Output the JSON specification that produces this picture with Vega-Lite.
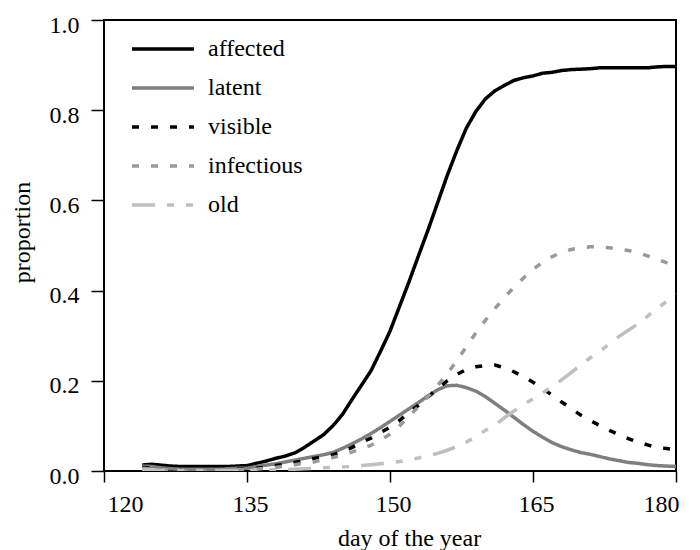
{
  "$schema": "https://vega.github.io/schema/vega-lite/v6.json",
  "width": 572,
  "height": 451,
  "autosize": {"type": "none"},
  "padding": {"left": 104, "top": 20, "right": 24, "bottom": 79},
  "background": "white",
  "config": {
    "font": "Liberation Serif",
    "view": {"stroke": "#000", "strokeWidth": 2},
    "axis": {
      "grid": false,
      "domain": false,
      "tickColor": "#000",
      "tickWidth": 1.5,
      "labelFont": "Liberation Serif",
      "labelFontSize": 24,
      "labelColor": "#000",
      "titleFont": "Liberation Serif",
      "titleFontSize": 24,
      "titleFontWeight": "normal",
      "titleColor": "#000"
    },
    "legend": {
      "orient": "none",
      "legendX": 26,
      "legendY": 17,
      "padding": 0,
      "symbolType": "stroke",
      "symbolSize": 3844,
      "symbolStrokeWidth": 3.5,
      "clipHeight": 24,
      "rowPadding": 15,
      "labelFont": "Liberation Serif",
      "labelFontSize": 24,
      "labelColor": "#000",
      "labelOffset": 12,
      "labelLimit": 300
    }
  },
  "data": {
    "values": [
      {"day":124,"affected":0.013,"latent":0.011,"visible":0.008,"infectious":0.006,"old":0.003},
      {"day":125,"affected":0.015,"latent":0.010,"visible":0.007,"infectious":0.005,"old":0.002},
      {"day":126,"affected":0.013,"latent":0.007,"visible":0.004,"infectious":0.004,"old":0.001},
      {"day":127,"affected":0.011,"latent":0.005,"visible":0.003,"infectious":0.003,"old":0.001},
      {"day":128,"affected":0.010,"latent":0.004,"visible":0.003,"infectious":0.002,"old":0.001},
      {"day":129,"affected":0.010,"latent":0.004,"visible":0.002,"infectious":0.002,"old":0.001},
      {"day":130,"affected":0.010,"latent":0.004,"visible":0.002,"infectious":0.002,"old":0.001},
      {"day":131,"affected":0.010,"latent":0.004,"visible":0.002,"infectious":0.002,"old":0.001},
      {"day":132,"affected":0.010,"latent":0.004,"visible":0.003,"infectious":0.002,"old":0.001},
      {"day":133,"affected":0.010,"latent":0.005,"visible":0.004,"infectious":0.003,"old":0.001},
      {"day":134,"affected":0.011,"latent":0.006,"visible":0.004,"infectious":0.003,"old":0.001},
      {"day":135,"affected":0.012,"latent":0.006,"visible":0.004,"infectious":0.003,"old":0.001},
      {"day":136,"affected":0.017,"latent":0.010,"visible":0.006,"infectious":0.004,"old":0.002},
      {"day":137,"affected":0.022,"latent":0.013,"visible":0.009,"infectious":0.006,"old":0.002},
      {"day":138,"affected":0.028,"latent":0.016,"visible":0.012,"infectious":0.008,"old":0.003},
      {"day":139,"affected":0.033,"latent":0.020,"visible":0.015,"infectious":0.011,"old":0.003},
      {"day":140,"affected":0.040,"latent":0.024,"visible":0.019,"infectious":0.014,"old":0.004},
      {"day":141,"affected":0.052,"latent":0.028,"visible":0.023,"infectious":0.017,"old":0.005},
      {"day":142,"affected":0.066,"latent":0.032,"visible":0.028,"infectious":0.020,"old":0.006},
      {"day":143,"affected":0.080,"latent":0.036,"visible":0.032,"infectious":0.025,"old":0.007},
      {"day":144,"affected":0.100,"latent":0.041,"visible":0.036,"infectious":0.030,"old":0.008},
      {"day":145,"affected":0.125,"latent":0.050,"visible":0.044,"infectious":0.035,"old":0.009},
      {"day":146,"affected":0.158,"latent":0.060,"visible":0.052,"infectious":0.042,"old":0.010},
      {"day":147,"affected":0.190,"latent":0.071,"visible":0.063,"infectious":0.049,"old":0.012},
      {"day":148,"affected":0.222,"latent":0.083,"visible":0.073,"infectious":0.057,"old":0.014},
      {"day":149,"affected":0.265,"latent":0.096,"visible":0.085,"infectious":0.068,"old":0.016},
      {"day":150,"affected":0.310,"latent":0.110,"visible":0.097,"infectious":0.082,"old":0.018},
      {"day":151,"affected":0.365,"latent":0.124,"visible":0.112,"infectious":0.100,"old":0.021},
      {"day":152,"affected":0.420,"latent":0.138,"visible":0.130,"infectious":0.122,"old":0.025},
      {"day":153,"affected":0.478,"latent":0.152,"visible":0.146,"infectious":0.143,"old":0.029},
      {"day":154,"affected":0.535,"latent":0.167,"visible":0.164,"infectious":0.165,"old":0.034},
      {"day":155,"affected":0.595,"latent":0.180,"visible":0.183,"infectious":0.190,"old":0.039},
      {"day":156,"affected":0.655,"latent":0.189,"visible":0.200,"infectious":0.215,"old":0.046},
      {"day":157,"affected":0.710,"latent":0.190,"visible":0.214,"infectious":0.245,"old":0.054},
      {"day":158,"affected":0.760,"latent":0.185,"visible":0.225,"infectious":0.275,"old":0.064},
      {"day":159,"affected":0.797,"latent":0.177,"visible":0.231,"infectious":0.306,"old":0.076},
      {"day":160,"affected":0.825,"latent":0.165,"visible":0.234,"infectious":0.334,"old":0.090},
      {"day":161,"affected":0.843,"latent":0.150,"visible":0.235,"infectious":0.360,"old":0.102},
      {"day":162,"affected":0.855,"latent":0.135,"visible":0.229,"infectious":0.385,"old":0.118},
      {"day":163,"affected":0.866,"latent":0.119,"visible":0.220,"infectious":0.407,"old":0.133},
      {"day":164,"affected":0.872,"latent":0.103,"visible":0.209,"infectious":0.428,"old":0.147},
      {"day":165,"affected":0.876,"latent":0.088,"visible":0.197,"infectious":0.447,"old":0.160},
      {"day":166,"affected":0.882,"latent":0.075,"visible":0.183,"infectious":0.463,"old":0.173},
      {"day":167,"affected":0.884,"latent":0.063,"visible":0.168,"infectious":0.475,"old":0.187},
      {"day":168,"affected":0.888,"latent":0.054,"visible":0.153,"infectious":0.485,"old":0.202},
      {"day":169,"affected":0.890,"latent":0.047,"visible":0.139,"infectious":0.491,"old":0.218},
      {"day":170,"affected":0.891,"latent":0.041,"visible":0.124,"infectious":0.495,"old":0.235},
      {"day":171,"affected":0.892,"latent":0.037,"visible":0.112,"infectious":0.497,"old":0.251},
      {"day":172,"affected":0.894,"latent":0.032,"visible":0.101,"infectious":0.497,"old":0.265},
      {"day":173,"affected":0.894,"latent":0.027,"visible":0.090,"infectious":0.495,"old":0.282},
      {"day":174,"affected":0.894,"latent":0.023,"visible":0.081,"infectious":0.492,"old":0.298},
      {"day":175,"affected":0.894,"latent":0.019,"visible":0.072,"infectious":0.489,"old":0.312},
      {"day":176,"affected":0.894,"latent":0.017,"visible":0.064,"infectious":0.484,"old":0.326},
      {"day":177,"affected":0.894,"latent":0.014,"visible":0.058,"infectious":0.477,"old":0.343},
      {"day":178,"affected":0.896,"latent":0.012,"visible":0.052,"infectious":0.470,"old":0.360},
      {"day":179,"affected":0.897,"latent":0.011,"visible":0.050,"infectious":0.462,"old":0.376},
      {"day":180,"affected":0.897,"latent":0.010,"visible":0.047,"infectious":0.457,"old":0.391}
    ]
  },
  "transform": [
    {"fold": ["affected", "latent", "visible", "infectious", "old"], "as": ["series", "value"]}
  ],
  "mark": {"type": "line", "strokeWidth": 3.5, "strokeCap": "butt", "clip": true},
  "encoding": {
    "x": {
      "field": "day",
      "type": "quantitative",
      "scale": {"domain": [120, 180], "nice": false, "zero": false},
      "axis": {
        "title": "day of the year",
        "values": [120, 135, 150, 165, 180],
        "tickSize": 11,
        "labelPadding": 29,
        "labelBaseline": "alphabetic",
        "labelOffset": 3,
        "titleX": 305,
        "titleY": 74,
        "titleBaseline": "alphabetic",
        "titleAnchor": null
      }
    },
    "y": {
      "field": "value",
      "type": "quantitative",
      "scale": {"domain": [0, 1], "nice": false},
      "axis": {
        "title": "proportion",
        "values": [0, 0.2, 0.4, 0.6, 0.8, 1.0],
        "format": ".1f",
        "tickSize": 13,
        "labelPadding": 12,
        "labelBaseline": "alphabetic",
        "labelOffset": 12,
        "titleX": -75,
        "titleY": 212,
        "titleBaseline": "alphabetic",
        "titleAngle": 270
      }
    },
    "color": {
      "field": "series",
      "type": "nominal",
      "scale": {
        "domain": ["affected", "latent", "visible", "infectious", "old"],
        "range": ["#000000", "#7f7f7f", "#000000", "#999999", "#bfbfbf"]
      },
      "legend": {"title": null}
    },
    "strokeDash": {
      "field": "series",
      "type": "nominal",
      "scale": {
        "domain": ["affected", "latent", "visible", "infectious", "old"],
        "range": [[1, 0], [1, 0], [7, 12], [7, 12], [23, 12, 7, 12, 7, 12]]
      },
      "legend": {"title": null}
    }
  }
}
